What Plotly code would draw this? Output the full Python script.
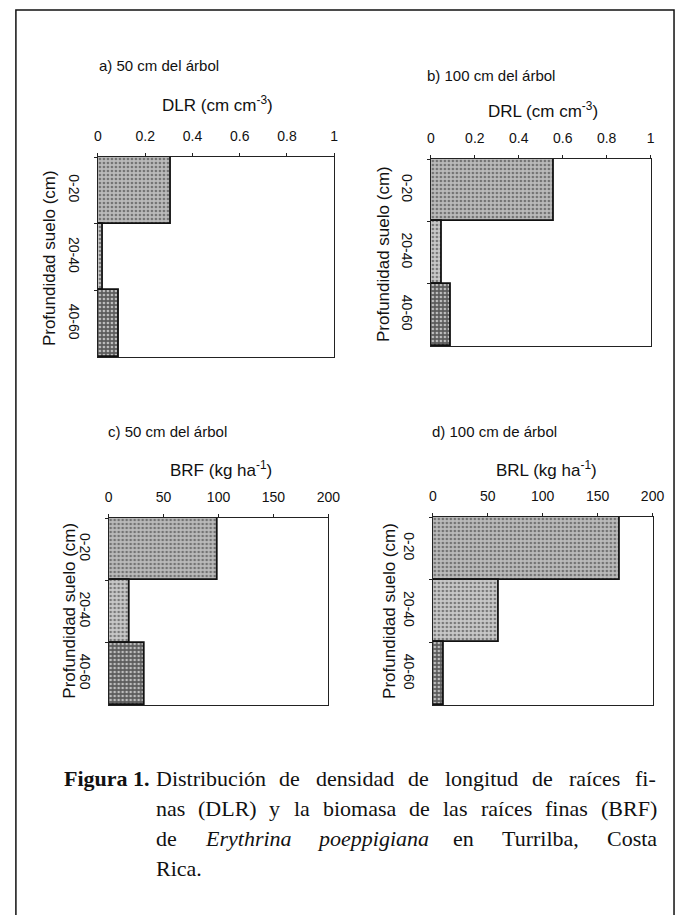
import plotly.graph_objects as go

# The page body has an 8 px default margin, so the figure is drawn 8 px smaller
# on each side and all reference pixel positions are shifted by that margin.
PAGE_W, PAGE_H, OFF = 695, 923, 8
FW, FH = PAGE_W - 2 * OFF, PAGE_H - 2 * OFF

# ---------------- data ----------------
categories = ["0-20", "20-40", "40-60"]
dlr_50 = [0.31, 0.02, 0.09]      # a) DLR, 50 cm del árbol
drl_100 = [0.56, 0.05, 0.09]     # b) DRL, 100 cm del árbol
brf_50 = [99, 19, 33]            # c) BRF, 50 cm del árbol
brl_100 = [170, 60, 10]          # d) BRL, 100 cm de árbol

ticks_dens = [0, 0.2, 0.4, 0.6, 0.8, 1]
ticks_dens_txt = ["0", "0.2", "0.4", "0.6", "0.8", "1"]
ticks_bio = [0, 50, 100, 150, 200]
ticks_bio_txt = ["0", "50", "100", "150", "200"]

panel_titles = ["a) 50 cm del árbol", "b) 100 cm del árbol",
                "c) 50 cm del árbol", "d) 100 cm de árbol"]
x_titles = ["DLR (cm cm<sup>-3</sup>)", "DRL (cm cm<sup>-3</sup>)",
            "BRF (kg ha<sup>-1</sup>)", "BRL (kg ha<sup>-1</sup>)"]
y_title = "Profundidad suelo (cm)"

caption_lines = [
    [("Distribución", False), ("de", False), ("densidad", False), ("de", False),
     ("longitud", False), ("de", False), ("raíces", False), ("fi-", False)],
    [("nas", False), ("(DLR)", False), ("y", False), ("la", False),
     ("biomasa", False), ("de", False), ("las", False), ("raíces", False),
     ("finas", False), ("(BRF)", False)],
    [("de", False), ("Erythrina", True), ("poeppigiana", True), ("en", False),
     ("Turrilba,", False), ("Costa", False)],
    [("Rica.", False)],
]

# ---------------- styling ----------------
SANS = "Liberation Sans, Arial, sans-serif"
SERIF = "Liberation Serif, Times New Roman, serif"
bar_fill = ["#bababa", "#c8c8c8", "#5c5c5c"]
bar_dots = ["#606060", "#6e6e6e", "#1a1a1a"]

# pixel boxes of the plot areas in the page: (left, right, top, bottom)
boxes = [(96, 338, 157, 357), (437, 662, 159, 346),
         (107, 332, 518, 705), (439, 664, 517, 705)]
series = [dlr_50, drl_100, brf_50, brl_100]
xranges = [[0, 1], [0, 1], [0, 200], [0, 200]]
xticks = [(ticks_dens, ticks_dens_txt), (ticks_dens, ticks_dens_txt),
          (ticks_bio, ticks_bio_txt), (ticks_bio, ticks_bio_txt)]


def px(x):
    return (x - OFF) / FW


def py(y):
    return 1 - (y - OFF) / FH


fig = go.Figure()
layout = dict(width=FW, height=FH, margin=dict(l=0, r=0, t=0, b=0),
              paper_bgcolor="white", plot_bgcolor="white",
              showlegend=False, bargap=0, font=dict(family=SANS, color="#111"))

for i, (vals, box) in enumerate(zip(series, boxes)):
    n = "" if i == 0 else str(i + 1)
    l, r, t, b = box
    fig.add_trace(go.Bar(
        x=vals, y=categories, orientation="h",
        xaxis="x" + n, yaxis="y" + n, width=1,
        marker=dict(color=bar_fill,
                    line=dict(color="#111", width=1.8),
                    pattern=dict(shape=".", fgcolor=bar_dots, fgopacity=0.6,
                                 size=4, solidity=0.35, fillmode="overlay")),
        hoverinfo="skip"))
    tv, tt = xticks[i]
    layout["xaxis" + n] = dict(
        domain=[px(l), px(r)], anchor="y" + n, side="top",
        range=xranges[i], tickvals=tv, ticktext=tt,
        ticks="outside", ticklen=3, tickcolor="#222", tickwidth=1,
        ticklabelstandoff=6,
        showline=True, mirror=True, linecolor="#222", linewidth=1,
        showgrid=False, zeroline=False,
        tickfont=dict(family=SANS, size=14, color="#111"), fixedrange=True)
    layout["yaxis" + n] = dict(
        domain=[py(b), py(t)], anchor="x" + n, type="category",
        categoryorder="array", categoryarray=categories,
        range=[2.5, -0.5], tickson="boundaries",
        ticks="outside", ticklen=3, tickcolor="#222", tickwidth=1,
        tickangle=90, ticklabelstandoff=11,
        showline=True, mirror=True, linecolor="#222", linewidth=1,
        showgrid=False, zeroline=False,
        tickfont=dict(family=SANS, size=14, color="#111"), fixedrange=True)

fig.update_layout(**layout)

ann = []
# panel titles (left x, center y)
title_pos = [(95, 65), (431, 76), (104, 432), (436, 432)]
for txt, (x, y) in zip(panel_titles, title_pos):
    ann.append(dict(text=txt, x=px(x), y=py(y), xref="paper", yref="paper",
                    xanchor="left", yanchor="middle", showarrow=False,
                    font=dict(family=SANS, size=15, color="#111")))
# x-axis titles (center)
xt_pos = [(218, 104), (552, 110), (222, 469), (555, 469)]
for txt, (x, y) in zip(x_titles, xt_pos):
    ann.append(dict(text=txt, x=px(x), y=py(y), xref="paper", yref="paper",
                    xanchor="center", yanchor="middle", showarrow=False,
                    font=dict(family=SANS, size=17, color="#111")))
# y-axis titles (rotated)
yt_pos = [(46, 258), (388, 254), (66, 611), (394, 611)]
for (x, y) in yt_pos:
    ann.append(dict(text=y_title, x=px(x), y=py(y), xref="paper", yref="paper",
                    xanchor="center", yanchor="middle", textangle=-90,
                    showarrow=False,
                    font=dict(family=SANS, size=17, color="#111")))

# ---------------- caption (justified like the printed text) ----------------
CAP_SIZE = 22
# Times New Roman advance widths (1/1000 em), roman and italic
ROMAN = dict(zip("abcdefghilmnoprstuyáíóDLRBFTCE(),.- 1",
                 [444, 500, 444, 500, 444, 333, 500, 500, 278, 278, 778, 500,
                  500, 500, 333, 389, 278, 500, 500, 444, 278, 500, 722, 611,
                  667, 667, 556, 611, 667, 611, 333, 333, 250, 250, 333, 250,
                  500]))
ITALIC = dict(zip("aeghinoprtyE",
                  [500, 444, 500, 500, 278, 500, 500, 500, 389, 278, 444, 611]))


def word_width(w, italic):
    table = ITALIC if italic else ROMAN
    return sum(table.get(ch, 500) for ch in w) / 1000 * CAP_SIZE


cap_font = dict(family=SERIF, size=CAP_SIZE, color="#111")
LINE_X0, LINE_X1 = 153, 665
line_y = [778, 808, 838, 868]


def cap_word(text, x, y, italic=False, bold=False, anchor="left"):
    t = text
    if italic:
        t = "<i>%s</i>" % t
    if bold:
        t = "<b>%s</b>" % t
    ann.append(dict(text=t, x=px(x), y=py(y), xref="paper", yref="paper",
                    xanchor=anchor, yanchor="middle", showarrow=False,
                    font=cap_font))


cap_word("Figura 1.", 59, line_y[0], bold=True)
for k, (words, y) in enumerate(zip(caption_lines, line_y)):
    last = k == len(caption_lines) - 1
    widths = [word_width(w, it) for w, it in words]
    if last or len(words) == 1:
        gap = 0.25 * CAP_SIZE
    else:
        gap = (LINE_X1 - LINE_X0 - sum(widths)) / (len(words) - 1)
    x = LINE_X0
    for (w, it), wd in zip(words, widths):
        cap_word(w, x, y, italic=it)
        x += wd + gap

fig.update_layout(annotations=ann)

# outer frame
fig.add_shape(type="rect", xref="paper", yref="paper",
              x0=px(12), x1=px(686), y0=py(950), y1=py(10),
              line=dict(color="#111", width=1.5), fillcolor="rgba(0,0,0,0)")

fig.write_html("out.html")
